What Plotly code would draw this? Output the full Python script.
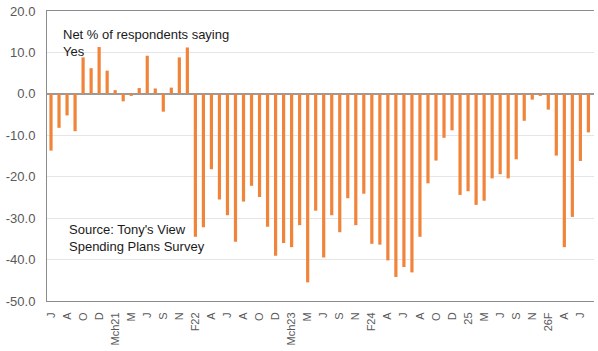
import plotly.graph_objects as go

# Survey months (no January survey)
months = [
    "Jun 2020", "Jul 2020", "Aug 2020", "Sep 2020", "Oct 2020", "Nov 2020", "Dec 2020",
    "Feb 2021", "Mar 2021", "Apr 2021", "May 2021", "Jun 2021", "Jul 2021", "Aug 2021",
    "Sep 2021", "Oct 2021", "Nov 2021", "Dec 2021",
    "Feb 2022", "Mar 2022", "Apr 2022", "May 2022", "Jun 2022", "Jul 2022", "Aug 2022",
    "Sep 2022", "Oct 2022", "Nov 2022", "Dec 2022",
    "Feb 2023", "Mar 2023", "Apr 2023", "May 2023", "Jun 2023", "Jul 2023", "Aug 2023",
    "Sep 2023", "Oct 2023", "Nov 2023", "Dec 2023",
    "Feb 2024", "Mar 2024", "Apr 2024", "May 2024", "Jun 2024", "Jul 2024", "Aug 2024",
    "Sep 2024", "Oct 2024", "Nov 2024", "Dec 2024",
    "Feb 2025", "Mar 2025", "Apr 2025", "May 2025", "Jun 2025", "Jul 2025", "Aug 2025",
    "Sep 2025", "Oct 2025", "Nov 2025", "Dec 2025",
    "Feb 2026", "Mar 2026", "Apr 2026", "May 2026", "Jun 2026", "Jul 2026",
]

# Net % of respondents saying Yes
net_yes = [
    -13.7, -8.2, -5.2, -9.0, 8.8, 6.2, 11.3,
    5.6, 0.9, -1.8, -0.5, 1.4, 9.2, 1.3,
    -4.3, 1.5, 8.8, 11.2,
    -34.5, -32.2, -18.2, -25.5, -29.3, -35.7, -26.0,
    -22.2, -24.9, -32.1, -39.1,
    -36.0, -37.0, -31.7, -45.5, -28.2, -39.5, -29.3,
    -33.4, -25.2, -31.7, -24.1,
    -36.2, -36.4, -40.2, -44.2, -41.8, -43.1, -34.5,
    -21.6, -16.1, -10.6, -8.8,
    -24.4, -23.5, -26.8, -25.8, -20.4, -19.4, -20.4,
    -15.8, -6.5, -1.4, -0.5,
    -3.8, -14.9, -37.0, -29.7, -16.2, -9.3,
]

# Axis labels on every second survey
x_tick_labels = [
    "J", "A", "O", "D", "Mch21", "M", "J", "S", "N", "F22",
    "A", "J", "A", "O", "D", "Mch23", "M", "J", "S", "N", "F24",
    "A", "J", "A", "O", "D", "25", "M", "J", "S", "N", "26F", "A", "J",
]
y_tick_values = [20, 10, 0, -10, -20, -30, -40, -50]
y_tick_labels = ["20.0", "10.0", "0.0", "-10.0", "-20.0", "-30.0", "-40.0", "-50.0"]

fig = go.Figure(
    go.Bar(
        x=months,
        y=net_yes,
        marker=dict(color="#F0843A", line=dict(width=0)),
        hoverinfo="x+y",
    )
)

fig.update_layout(
    width=598,
    height=351,
    margin=dict(l=47, r=4, t=11, b=50),
    paper_bgcolor="white",
    plot_bgcolor="white",
    bargap=0.6,
    showlegend=False,
    font=dict(family="Liberation Sans, Arial, sans-serif", color="#595959"),
)

fig.update_xaxes(
    type="category",
    range=[-0.5, 67.7],
    tickvals=months[::2],
    ticktext=x_tick_labels,
    tickangle=-90,
    tickfont=dict(size=11, color="#595959"),
    ticklabelstandoff=6,
    showgrid=False,
    showline=True,
    mirror=True,
    linecolor="#8c8c8c",
    linewidth=1,
    ticks="",
)

fig.update_yaxes(
    range=[-50, 20],
    tickvals=y_tick_values,
    ticktext=y_tick_labels,
    tickfont=dict(size=13, color="#595959"),
    ticklabelstandoff=8,
    showgrid=True,
    gridcolor="#e6e6e6",
    gridwidth=1,
    zeroline=True,
    zerolinecolor="#9a9a9a",
    zerolinewidth=2,
    showline=True,
    linecolor="#8c8c8c",
    linewidth=1,
    ticks="",
)

fig.add_annotation(
    xref="paper", yref="y",
    x=0.025, y=16.6,
    xanchor="left", yanchor="top",
    text="Net % of respondents saying<br>Yes",
    showarrow=False,
    align="left",
    font=dict(size=13, color="#1a1a1a"),
)

fig.add_annotation(
    xref="paper", yref="y",
    x=0.036, y=-30.4,
    xanchor="left", yanchor="top",
    text="Source: Tony's View<br>Spending Plans Survey",
    showarrow=False,
    align="left",
    font=dict(size=13, color="#1a1a1a"),
)

fig.write_html("out.html")
